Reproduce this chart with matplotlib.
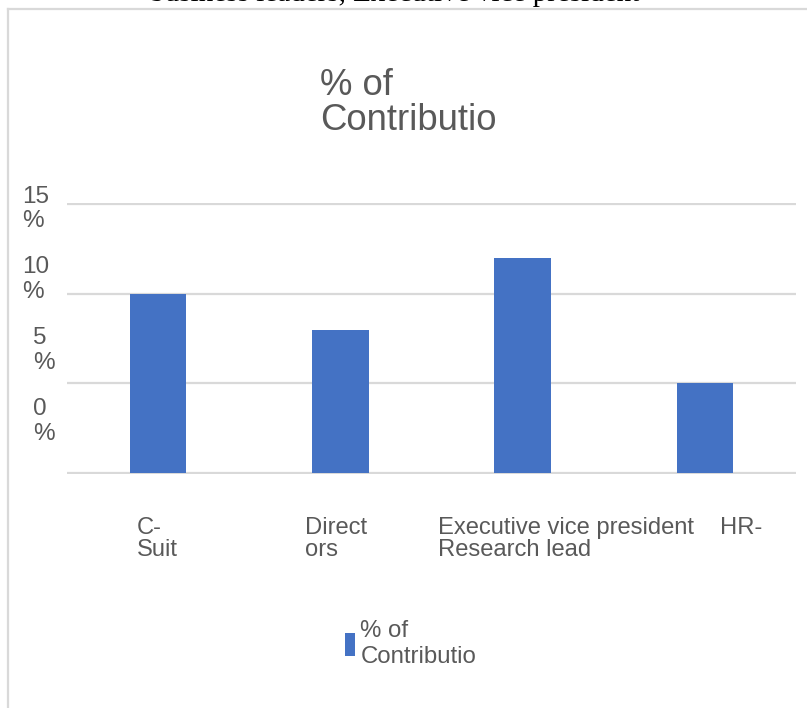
import matplotlib.pyplot as plt
from matplotlib.lines import Line2D

# data
categories = ['C-Suit', 'Directors', 'Executive vice president', 'HR-Research lead']
tick_text = ['C-\nSuit', 'Direct\nors', 'Executive vice president\nResearch lead', 'HR-']
contribution = [10, 8, 12, 5]
y_ticks = [0, 5, 10, 15]
series_name = '% of\nContributio'

grey = '#595959'
bar_blue = '#4472C4'
grid_grey = '#d9d9d9'
plt.rcParams['font.family'] = ['Liberation Sans', 'DejaVu Sans']

W, H = 807, 708
fig = plt.figure(figsize=(W / 100, H / 100), dpi=100)

# axes placed in pixels
x0, x1 = 67, 796
y_top, y_bot = 203.1, 473.9
ax = fig.add_axes([x0 / W, 1 - y_bot / H, (x1 - x0) / W, (y_bot - y_top) / H])

xs = range(len(categories))
ax.bar(xs, contribution, width=0.31, color=bar_blue, label=series_name, zorder=3)
ax.set_xlim(-0.5, 3.5)
ax.set_ylim(-0.05, 15.05)
ax.set_yticks(y_ticks)
ax.set_yticklabels([])
ax.set_xticks([])
ax.tick_params(length=0)
ax.grid(axis='y', color=grid_grey, linewidth=1.6, zorder=0)
for s in ax.spines.values():
    s.set_visible(False)

# y labels, wrapped like the original ("15" over "%")
for v in y_ticks:
    xl = 22 if v >= 10 else 33
    ax.text((xl - x0) / (x1 - x0), 2.88 + 0.79 * v, f'{v}\n%',
            transform=ax.get_yaxis_transform(), ha='left', va='center',
            fontsize=17.5, color=grey, linespacing=1.15)

# category labels, wrapped/overflowing as in the source
label_dx = [-0.116, -0.194, -0.464, 0.083]
for i, txt in enumerate(tick_text):
    ax.text(i + label_dx[i], (y_bot - 517) / (y_bot - y_top), txt,
            transform=ax.get_xaxis_transform(), ha='left', va='top',
            fontsize=17.1, color=grey, linespacing=1.0)

# title
fig.text(320 / W, 1 - 68 / H, '% of\nContributio', ha='left', va='top',
         fontsize=26.3, color=grey, linespacing=1.0)

# legend
fig.legend(loc='center left', bbox_to_anchor=(345 / W, 1 - 644 / H),
           frameon=False, fontsize=17.3, labelcolor=grey,
           handlelength=0.42, handleheight=1.1, handletextpad=0.22,
           borderpad=0, borderaxespad=0)

# chart frame and clipped caption from the page above
fig.add_artist(Line2D([8 / W, 8 / W], [0, 1 - 9 / H], color=grid_grey, lw=1.6,
                      transform=fig.transFigure))
fig.add_artist(Line2D([8 / W, 1], [1 - 9 / H, 1 - 9 / H], color=grid_grey, lw=1.6,
                      transform=fig.transFigure))
fig.text(150 / W, 1 - 1.0 / H, 'business leaders, Executive vice president',
         family='Liberation Serif', fontsize=21, color='black', va='baseline')

fig.savefig('out.png', dpi=100)
